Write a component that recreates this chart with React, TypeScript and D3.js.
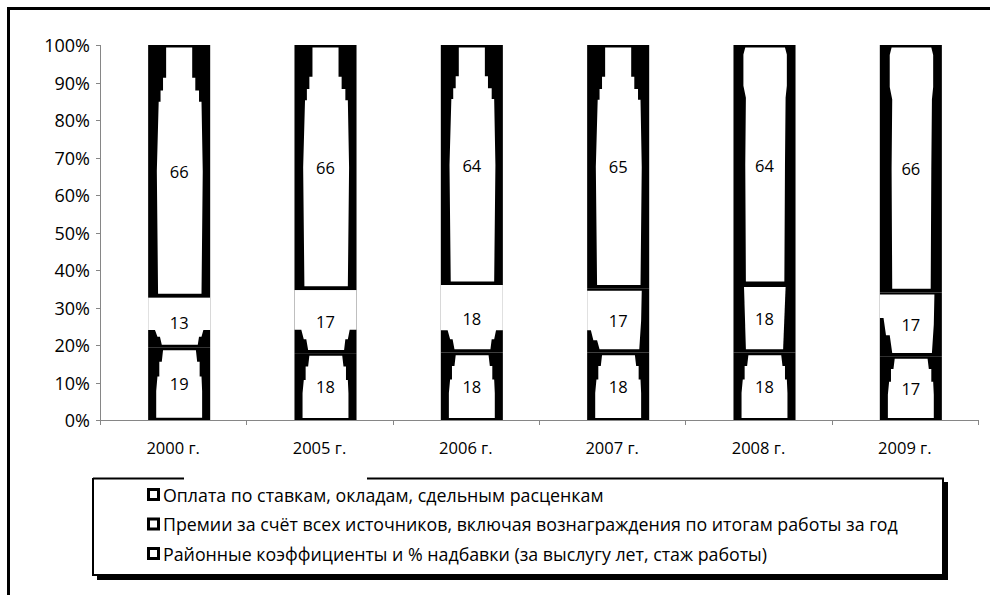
import React from "react";
import * as d3 from "d3";

const categories = ["2000 г.", "2005 г.", "2006 г.", "2007 г.", "2008 г.", "2009 г."];
const oplata = [66, 66, 64, 65, 64, 66];
const premii = [13, 17, 18, 17, 18, 17];
const rayon = [19, 18, 18, 18, 18, 17];
const legendLabels = [
  "Оплата по ставкам, окладам, сдельным расценкам",
  "Премии за счёт всех источников, включая вознаграждения по итогам работы за год",
  "Районные коэффициенты и % надбавки (за выслугу лет, стаж работы)",
];
const yTickValues = [0, 0.1, 0.2, 0.3, 0.4, 0.5, 0.6, 0.7, 0.8, 0.9, 1];

// picture-fill styles (per category)
const topStyle = ["bottle", "bottle", "bottle", "bottle", "vase", "vase"];
const midStyle = [
  { kind: "cup", vs: 0.65 },
  { kind: "cup", vs: 0.63 },
  { kind: "cup", vs: 0.67 },
  { kind: "cupRight", vs: 0.65 },
  { kind: "box", vs: 0 },
  { kind: "cupRight", vs: 0.4 },
];

type P = [number, number];

function bottle(): P[] {
  return [
    [0.29, 0.01], [0.71, 0.01], [0.71, 0.13], [0.76, 0.13], [0.76, 0.18], [0.82, 0.18],
    [0.82, 0.225], [0.86, 0.225], [0.88, 0.5], [0.86, 0.985], [0.16, 0.985], [0.14, 0.5],
    [0.17, 0.225], [0.2, 0.225], [0.2, 0.18], [0.24, 0.18], [0.24, 0.13], [0.29, 0.13],
  ];
}
function vase(): P[] {
  return [
    [0.19, 0.01], [0.83, 0.01], [0.86, 0.04], [0.86, 0.17], [0.84, 0.22], [0.83, 0.5],
    [0.82, 0.985], [0.2, 0.985], [0.19, 0.5], [0.2, 0.22], [0.16, 0.17], [0.16, 0.04],
  ];
}
function cup(vs: number): P[] {
  const m = vs + (1 - vs) * 0.4;
  return [
    [0, 0], [1, 0], [1, vs], [0.89, vs], [0.86, m], [0.82, m], [0.8, 0.95],
    [0.22, 0.95], [0.19, m], [0.15, m], [0.11, vs], [0, vs],
  ];
}
function cupRight(vs: number): P[] {
  const m = vs + (1 - vs) * 0.45;
  return [
    [0, 0.03], [0.88, 0.03], [0.87, 0.5], [0.84, 0.95], [0.2, 0.95], [0.16, m],
    [0.1, m], [0.06, vs], [0, vs],
  ];
}
function box(): P[] {
  return [[0.17, 0.03], [0.84, 0.03], [0.8, 0.95], [0.2, 0.95]];
}
function jar(): P[] {
  return [
    [0.24, 0.04], [0.77, 0.04], [0.79, 0.2], [0.83, 0.2], [0.83, 0.4], [0.86, 0.4],
    [0.87, 0.6], [0.87, 0.97], [0.13, 0.97], [0.13, 0.6], [0.15, 0.4], [0.18, 0.4],
    [0.18, 0.2], [0.22, 0.2],
  ];
}

export default function App() {
  const W = 990;
  const H = 595;
  const left = 100;
  const right = 978;
  const top = 45;
  const bottom = 420;

  const x = d3
    .scaleBand<string>()
    .domain(categories)
    .range([left, right])
    .paddingInner(0.576)
    .paddingOuter(0.288);
  const y = d3.scaleLinear().domain([0, 1]).range([bottom, top]);
  const barShift = 6;

  const rows = categories.map((c, i) => ({ cat: c, rayon: rayon[i], premii: premii[i], oplata: oplata[i] }));
  const stack = d3
    .stack<any>()
    .keys(["rayon", "premii", "oplata"])
    .offset(d3.stackOffsetExpand);
  const series = stack(rows);

  const font = "'Open Sans', sans-serif";
  const step = x.step();
  const boundaries = d3.range(categories.length + 1).map((i) => left + i * step);

  const segs: JSX.Element[] = [];
  const labels: JSX.Element[] = [];
  series.forEach((s, si) => {
    s.forEach((d, ci) => {
      const x0 = (x(categories[ci]) as number) + barShift;
      const w = x.bandwidth();
      const yTop = y(d[1]);
      const yBot = y(d[0]);
      const h = yBot - yTop;
      let poly: P[];
      if (si === 0) poly = jar();
      else if (si === 1) {
        const ms = midStyle[ci];
        poly = ms.kind === "cup" ? cup(ms.vs) : ms.kind === "cupRight" ? cupRight(ms.vs) : box();
      } else poly = topStyle[ci] === "vase" ? vase() : bottle();
      const pts = poly.map(([u, v]) => `${x0 + u * w},${yTop + v * h}`).join(" ");
      segs.push(
        <g key={`s${si}-${ci}`}>
          <rect x={x0} y={yTop} width={w} height={h} fill="#000" />
          <polygon points={pts} fill="#fff" />
        </g>
      );
      const val = (d.data as any)[s.key];
      labels.push(
        <text
          key={`l${si}-${ci}`}
          x={x0 + w / 2}
          y={(yTop + yBot) / 2}
          textAnchor="middle"
          dominantBaseline="central"
          fontSize={16.5}
          fontFamily={font}
          fill="#000"
        >
          {val}
        </text>
      );
    });
  });

  const fmt = d3.format(".0%");

  return (
    <svg width={W} height={H} style={{ position: "absolute", left: 0, top: 0, background: "#fff" }}>
      <rect x={0} y={0} width={W} height={H} fill="#fff" />
      {/* outer frame */}
      <line x1={8.5} y1={8.5} x2={W} y2={8.5} stroke="#000" strokeWidth={3} />
      <line x1={8.5} y1={7} x2={8.5} y2={H} stroke="#000" strokeWidth={3} />

      {/* y axis */}
      <line x1={left + 0.5} y1={top} x2={left + 0.5} y2={bottom} stroke="#868686" strokeWidth={1} />
      {yTickValues.map((t) => (
        <g key={t}>
          <line x1={left - 4} x2={left} y1={Math.round(y(t)) + 0.5} y2={Math.round(y(t)) + 0.5} stroke="#868686" />
          <text
            x={left - 10}
            y={y(t)}
            textAnchor="end"
            dominantBaseline="central"
            fontSize={18}
            fontFamily={font}
            fill="#000"
          >
            {fmt(t)}
          </text>
        </g>
      ))}

      {segs}
      {labels}

      {/* x axis */}
      <line x1={left} y1={bottom + 0.5} x2={right} y2={bottom + 0.5} stroke="#868686" />
      {boundaries.map((b, i) => (
        <line key={i} x1={Math.round(b) + 0.5} x2={Math.round(b) + 0.5} y1={bottom} y2={bottom + 5} stroke="#868686" />
      ))}
      {categories.map((c) => (
        <text
          key={c}
          x={(x(c) as number) + x.bandwidth() / 2}
          y={447}
          textAnchor="middle"
          dominantBaseline="central"
          fontSize={16.5}
          fontFamily={font}
          fill="#000"
        >
          {c}
        </text>
      ))}

      {/* legend */}
      <rect x={97} y={482} width={851} height={98} fill="#000" />
      <rect x={93} y={478} width={850} height={97} fill="#fff" />
      <line x1={93} y1={478.5} x2={184} y2={478.5} stroke="#000" strokeWidth={2} />
      <line x1={367} y1={478.5} x2={944} y2={478.5} stroke="#000" strokeWidth={2} />
      <line x1={93} y1={478} x2={93} y2={576} stroke="#000" strokeWidth={2} />
      <line x1={92} y1={575} x2={944} y2={575} stroke="#000" strokeWidth={2} />
      <line x1={943} y1={478} x2={943} y2={576} stroke="#000" strokeWidth={2} />
      {legendLabels.map((l, i) => (
        <g key={l}>
          <rect x={148.5} y={489.5 + i * 29.5} width={10} height={10} fill="#fff" stroke="#000" strokeWidth={3} />
          <text x={163} y={494.5 + i * 29.5} dominantBaseline="central" fontSize={17.8} fontFamily={font} fill="#000">
            {l}
          </text>
        </g>
      ))}
    </svg>
  );
}
